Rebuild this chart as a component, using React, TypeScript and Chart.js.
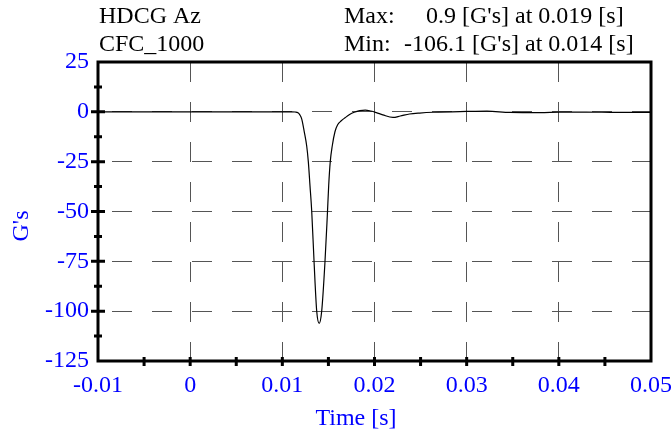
import { useEffect, useRef } from "react";
import { Chart, registerables } from "chart.js";

Chart.register(...registerables);

// time [s] and acceleration [G's]
const timeS = [
  -0.01, 0.0, 0.01, 0.011, 0.0114, 0.0117, 0.0119, 0.0121, 0.01238, 0.01264,
  0.01282, 0.013, 0.01319, 0.01344, 0.01373, 0.014, 0.01427, 0.01463, 0.01488,
  0.01503, 0.0152, 0.01542, 0.01571, 0.016, 0.0164, 0.0168, 0.0173, 0.0178,
  0.0184, 0.019, 0.0196, 0.0202, 0.0209, 0.022, 0.0228, 0.0238, 0.0249, 0.0264,
  0.03, 0.0322, 0.0347, 0.038, 0.0401, 0.043, 0.0463, 0.05,
];
const accelG = [
  0, 0, 0, 0, -0.1, -0.5, -1.5, -3.5, -10, -17,
  -25, -37, -50, -75, -100, -106.1, -100, -75, -52,
  -37, -25, -17, -10, -6.5, -4.5, -3.0, -1.3, -0.2,
  0.6, 0.9, 0.4, -0.4, -1.5, -2.8, -2.1, -1.1, -0.6, -0.2,
  0.2, 0.35, -0.3, -0.4, -0.1, -0.1, -0.3, -0.3,
];

const xTicks = [-0.01, 0, 0.01, 0.02, 0.03, 0.04, 0.05];
const yTicks = [25, 0, -25, -50, -75, -100, -125];
const xMinorTicks = [-0.005, 0.005, 0.015, 0.025, 0.035, 0.045];
const yMinorTicks = [12.5, -12.5, -37.5, -62.5, -87.5, -112.5];

const channelLines = ["HDCG Az", "CFC_1000"];
const maxLine = ["Max:", "0.9 [G's] at 0.019 [s]"];
const minLine = ["Min:", "-106.1 [G's] at 0.014 [s]"];
const xTitle = "Time [s]";
const yTitle = "G's";

const FONT = '24px "Liberation Serif", "Times New Roman", serif';
const BLUE = "#0000ff";

const framePlugin = {
  id: "frame",
  afterDatasetsDraw(chart: any) {
    const { ctx, chartArea } = chart;
    const { left, right, top, bottom } = chartArea;
    const xs = chart.scales.x;
    const ys = chart.scales.y;
    ctx.save();
    ctx.strokeStyle = "#000";
    ctx.lineWidth = 3;
    ctx.strokeRect(left, top, right - left, bottom - top);

    // tick marks on the bottom axis
    ctx.beginPath();
    [...xTicks.slice(1, -1), ...xMinorTicks].forEach((v) => {
      const px = xs.getPixelForValue(v);
      ctx.moveTo(px, bottom - 4);
      ctx.lineTo(px, bottom + 5);
    });
    // tick marks on the left axis
    yTicks.slice(1, -1).forEach((v) => {
      const py = ys.getPixelForValue(v);
      ctx.moveTo(left - 7, py);
      ctx.lineTo(left + 7, py);
    });
    yMinorTicks.forEach((v) => {
      const py = ys.getPixelForValue(v);
      ctx.moveTo(left - 4, py);
      ctx.lineTo(left + 4, py);
    });
    ctx.stroke();
    ctx.restore();
  },
  afterDraw(chart: any) {
    const { ctx } = chart;
    ctx.save();
    ctx.font = FONT;
    ctx.textBaseline = "alphabetic";
    ctx.fillStyle = "#000";
    ctx.textAlign = "left";
    ctx.fillText(channelLines[0], 99, 23);
    ctx.fillText(channelLines[1], 99, 50.5);
    ctx.fillText(maxLine[0], 344, 23);
    ctx.fillText(maxLine[1], 426, 23);
    ctx.fillText(minLine[0], 344, 50.5);
    ctx.fillText(minLine[1], 404, 50.5);

    ctx.fillStyle = BLUE;
    ctx.textAlign = "center";
    ctx.fillText(xTitle, 356, 425);
    ctx.translate(28, 226);
    ctx.rotate(-Math.PI / 2);
    ctx.fillText(yTitle, 0, 0);
    ctx.restore();
  },
};

export default function App() {
  const canvasRef = useRef<HTMLCanvasElement>(null);

  useEffect(() => {
    if (!canvasRef.current) return;
    const chart = new Chart(canvasRef.current, {
      type: "line",
      data: {
        datasets: [
          {
            data: timeS.map((t, i) => ({ x: t, y: accelG[i] })),
            borderColor: "#000",
            borderWidth: 1.2,
            pointRadius: 0,
            cubicInterpolationMode: "monotone",
            fill: false,
          },
        ],
      },
      options: {
        animation: false,
        responsive: true,
        maintainAspectRatio: false,
        events: [],
        layout: { padding: { top: 62, right: 20, left: 0, bottom: 0 } },
        plugins: { legend: { display: false }, tooltip: { enabled: false } },
        scales: {
          x: {
            type: "linear",
            min: -0.01,
            max: 0.05,
            afterBuildTicks: (s: any) => {
              s.ticks = xTicks.map((value) => ({ value }));
            },
            afterFit: (s: any) => {
              s.height = 74;
              s.paddingLeft = 0;
              s.paddingRight = 0;
            },
            ticks: {
              color: BLUE,
              font: { family: '"Liberation Serif", "Times New Roman", serif', size: 24 },
              padding: 10,
              maxRotation: 0,
              autoSkip: false,
              callback: (v: any) => String(Math.round(Number(v) * 1000) / 1000),
            },
            grid: { color: "#555", lineWidth: 1, drawTicks: false },
            border: { display: false, dash: [20, 20], dashOffset: 0 },
          },
          y: {
            type: "linear",
            min: -125,
            max: 25,
            afterBuildTicks: (s: any) => {
              s.ticks = yTicks.map((value) => ({ value }));
            },
            afterFit: (s: any) => {
              s.width = 98;
              s.paddingTop = 0;
              s.paddingBottom = 0;
            },
            ticks: {
              color: BLUE,
              font: { family: '"Liberation Serif", "Times New Roman", serif', size: 24 },
              padding: 9,
              autoSkip: false,
            },
            grid: { color: "#555", lineWidth: 1, drawTicks: false },
            border: { display: false, dash: [20, 20], dashOffset: 26 },
          },
        },
      },
      plugins: [framePlugin],
    });
    return () => chart.destroy();
  }, []);

  return (
    <div style={{ position: "fixed", left: 0, top: 0, width: 671, height: 435, background: "#fff" }}>
      <canvas ref={canvasRef} />
    </div>
  );
}
